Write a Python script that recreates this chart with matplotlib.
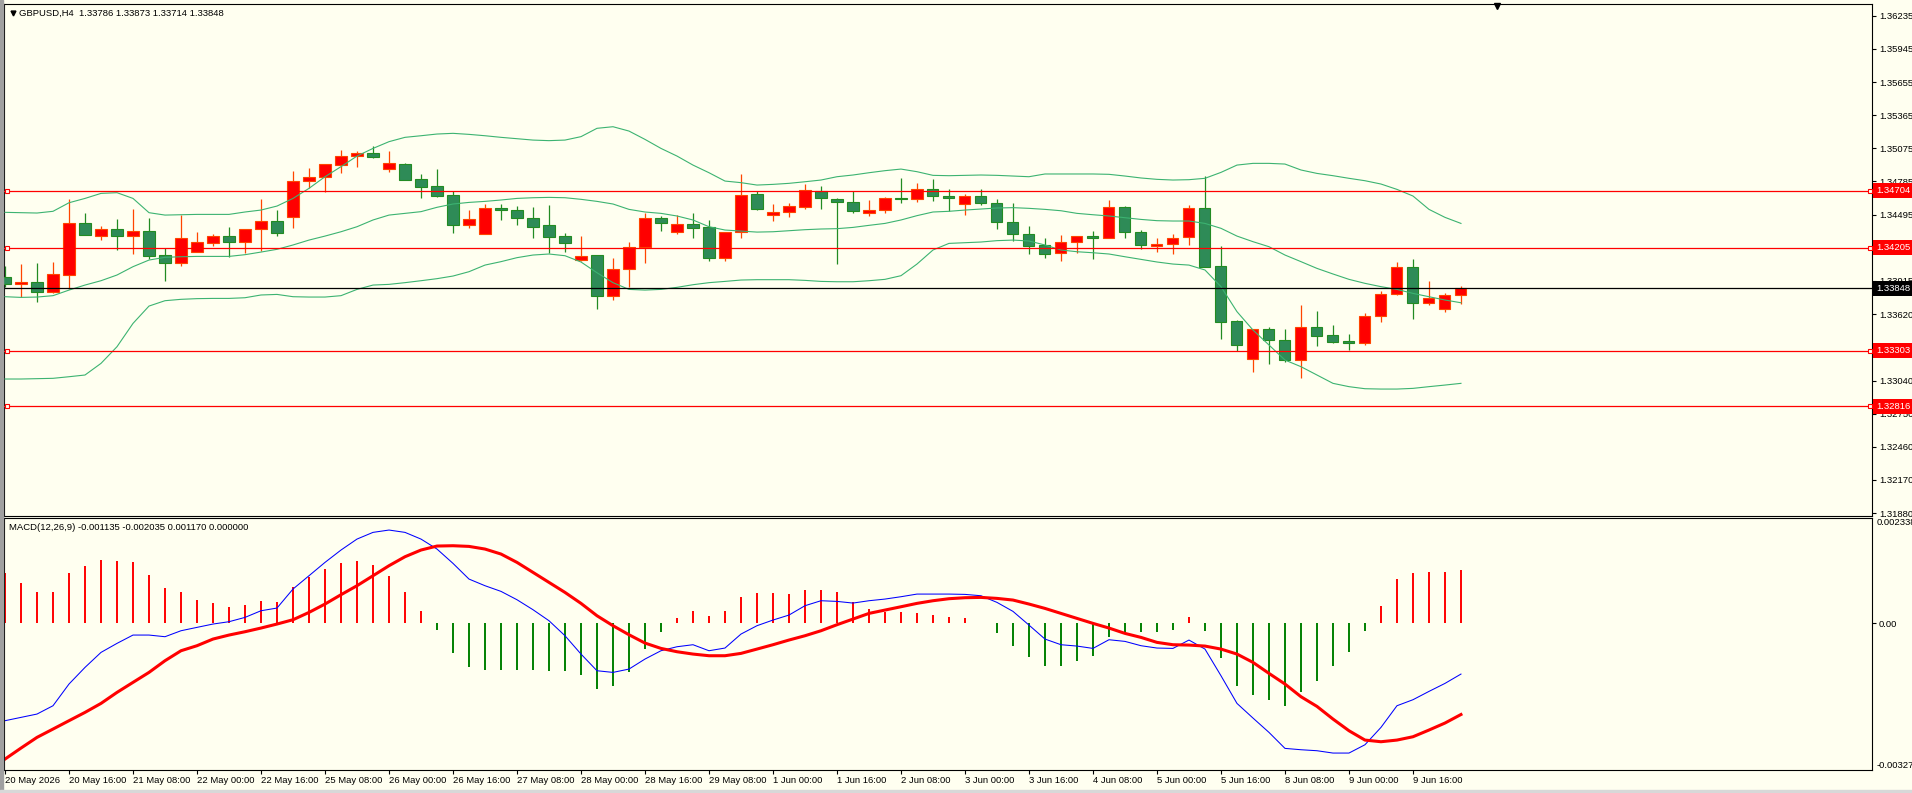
import numpy as np
import matplotlib.pyplot as plt
from matplotlib.transforms import blended_transform_factory

# GBPUSD H4 chart with Bollinger bands and MACD, MT4 look
W, H = 1912, 793
BG = '#FFFFF0'
plt.rcParams['font.family'] = ['Liberation Sans', 'DejaVu Sans']
FS = 6.8

symbol = 'GBPUSD,H4'

# 4h bars, oldest first (20 May 2026 00:00 .. 10 Jun 04:00)
opens = [1.33947, 1.33889, 1.33901, 1.33819, 1.33968, 1.34417, 1.34309, 1.34365, 1.34309, 1.34347,
         1.34137, 1.34073, 1.34169, 1.34248, 1.34304, 1.34257, 1.34365, 1.34438, 1.34476, 1.34785,
         1.34820, 1.34925, 1.35004, 1.35031, 1.34896, 1.34934, 1.34803, 1.34742, 1.34663, 1.34406,
         1.34321, 1.34549, 1.34531, 1.34461, 1.34400, 1.34304, 1.34099, 1.34137, 1.33778, 1.34014,
         1.34207, 1.34464, 1.34339, 1.34409, 1.34382, 1.34111, 1.34339, 1.34674, 1.34487, 1.34514,
         1.34563, 1.34704, 1.34628, 1.34601, 1.34505, 1.34531, 1.34639, 1.34628, 1.34715, 1.34654,
         1.34584, 1.34654, 1.34593, 1.34426, 1.34321, 1.34225, 1.34155, 1.34251, 1.34304, 1.34292,
         1.34560, 1.34341, 1.34222, 1.34233, 1.34295, 1.34549, 1.34044, 1.33562, 1.33232, 1.33489,
         1.33392, 1.33217, 1.33506, 1.33436, 1.33387, 1.33366, 1.33603, 1.33795, 1.34032, 1.33717,
         1.33667, 1.33786]
highs = [1.34044, 1.34061, 1.34070, 1.34079, 1.34631, 1.34508, 1.34394, 1.34455, 1.34543, 1.34464,
         1.34204, 1.34493, 1.34341, 1.34327, 1.34385, 1.34365, 1.34631, 1.34534, 1.34876, 1.34905,
         1.34934, 1.35060, 1.35048, 1.35095, 1.35048, 1.34943, 1.34850, 1.34890, 1.34698, 1.34534,
         1.34587, 1.34587, 1.34569, 1.34560, 1.34578, 1.34333, 1.34306, 1.34137, 1.34114, 1.34254,
         1.34505, 1.34482, 1.34490, 1.34508, 1.34447, 1.34339, 1.34850, 1.34704, 1.34587, 1.34596,
         1.34762, 1.34744, 1.34639, 1.34704, 1.34622, 1.34651, 1.34815, 1.34771, 1.34806, 1.34715,
         1.34674, 1.34715, 1.34628, 1.34596, 1.34394, 1.34286, 1.34315, 1.34304, 1.34350, 1.34622,
         1.34569, 1.34359, 1.34289, 1.34321, 1.34578, 1.34832, 1.34216, 1.33571, 1.33489, 1.33512,
         1.33492, 1.33705, 1.33649, 1.33527, 1.33448, 1.33635, 1.33825, 1.34079, 1.34105, 1.33912,
         1.33807, 1.33873]
lows = [1.33863, 1.33775, 1.33731, 1.33804, 1.33839, 1.34318, 1.34271, 1.34184, 1.34149, 1.34102,
        1.33915, 1.34044, 1.34169, 1.34219, 1.34125, 1.34160, 1.34178, 1.34306, 1.34377, 1.34730,
        1.34695, 1.34861, 1.34914, 1.34993, 1.34870, 1.34800, 1.34642, 1.34651, 1.34336, 1.34379,
        1.34321, 1.34450, 1.34406, 1.34292, 1.34155, 1.34166, 1.34090, 1.33670, 1.33749, 1.33863,
        1.34073, 1.34353, 1.34327, 1.34292, 1.34085, 1.34090, 1.34292, 1.34537, 1.34441, 1.34476,
        1.34546, 1.34546, 1.34064, 1.34511, 1.34485, 1.34505, 1.34598, 1.34601, 1.34610, 1.34525,
        1.34493, 1.34575, 1.34365, 1.34266, 1.34152, 1.34117, 1.34090, 1.34160, 1.34108, 1.34292,
        1.34292, 1.34195, 1.34169, 1.34152, 1.34231, 1.34038, 1.33407, 1.33302, 1.33118, 1.33182,
        1.33200, 1.33060, 1.33346, 1.33366, 1.33305, 1.33349, 1.33556, 1.33787, 1.33582, 1.33705,
        1.33641, 1.33714]
closes = [1.33889, 1.33901, 1.33819, 1.33971, 1.34417, 1.34318, 1.34365, 1.34306, 1.34347, 1.34134,
          1.34073, 1.34286, 1.34251, 1.34304, 1.34257, 1.34365, 1.34438, 1.34336, 1.34785, 1.34823,
          1.34934, 1.35004, 1.35031, 1.35001, 1.34943, 1.34800, 1.34739, 1.34660, 1.34406, 1.34452,
          1.34549, 1.34537, 1.34461, 1.34388, 1.34301, 1.34248, 1.34131, 1.33778, 1.34014, 1.34207,
          1.34461, 1.34423, 1.34409, 1.34379, 1.34111, 1.34339, 1.34663, 1.34546, 1.34514, 1.34566,
          1.34706, 1.34636, 1.34601, 1.34523, 1.34531, 1.34636, 1.34628, 1.34715, 1.34654, 1.34636,
          1.34654, 1.34593, 1.34426, 1.34321, 1.34222, 1.34152, 1.34251, 1.34304, 1.34292, 1.34560,
          1.34344, 1.34231, 1.34233, 1.34286, 1.34549, 1.34038, 1.33556, 1.33349, 1.33489, 1.33392,
          1.33217, 1.33506, 1.33433, 1.33381, 1.33366, 1.33603, 1.33795, 1.34032, 1.33717, 1.33760,
          1.33787, 1.33848]

# Bollinger bands
bb_upper = [1.34514, 1.34511, 1.34508, 1.34523, 1.34598, 1.34636, 1.34680, 1.34686, 1.34636, 1.34511,
            1.34490, 1.34493, 1.34496, 1.34496, 1.34496, 1.34517, 1.34534, 1.34569, 1.34636, 1.34724,
            1.34826, 1.34914, 1.35007, 1.35074, 1.35133, 1.35171, 1.35185, 1.35200, 1.35206, 1.35197,
            1.35185, 1.35171, 1.35159, 1.35147, 1.35142, 1.35147, 1.35177, 1.35250, 1.35264, 1.35226,
            1.35153, 1.35074, 1.35007, 1.34928, 1.34861, 1.34788, 1.34774, 1.34753, 1.34759, 1.34768,
            1.34782, 1.34797, 1.34826, 1.34841, 1.34861, 1.34879, 1.34893, 1.34870, 1.34838, 1.34835,
            1.34838, 1.34841, 1.34838, 1.34832, 1.34826, 1.34850, 1.34850, 1.34850, 1.34850, 1.34847,
            1.34832, 1.34815, 1.34803, 1.34797, 1.34800, 1.34812, 1.34864, 1.34928, 1.34943, 1.34943,
            1.34937, 1.34885, 1.34855, 1.34835, 1.34812, 1.34791, 1.34762, 1.34715, 1.34657, 1.34540,
            1.34470, 1.34417]
bb_mid = [1.33775, 1.33769, 1.33772, 1.33784, 1.33833, 1.33877, 1.33915, 1.33965, 1.34038, 1.34096,
          1.34120, 1.34125, 1.34128, 1.34128, 1.34128, 1.34143, 1.34166, 1.34190, 1.34228, 1.34271,
          1.34306, 1.34344, 1.34388, 1.34447, 1.34490, 1.34505, 1.34520, 1.34558, 1.34587, 1.34601,
          1.34610, 1.34622, 1.34636, 1.34642, 1.34645, 1.34642, 1.34628, 1.34610, 1.34587, 1.34540,
          1.34517, 1.34505, 1.34482, 1.34447, 1.34388, 1.34359, 1.34350, 1.34341, 1.34344, 1.34353,
          1.34362, 1.34368, 1.34371, 1.34382, 1.34400, 1.34417, 1.34447, 1.34485, 1.34517, 1.34523,
          1.34534, 1.34543, 1.34552, 1.34555, 1.34549, 1.34540, 1.34528, 1.34505, 1.34493, 1.34482,
          1.34467, 1.34452, 1.34441, 1.34438, 1.34438, 1.34417, 1.34374, 1.34306, 1.34257, 1.34213,
          1.34140, 1.34082, 1.34023, 1.33974, 1.33927, 1.33892, 1.33863, 1.33839, 1.33804, 1.33775,
          1.33746, 1.33722]
bb_lower = [1.33054, 1.33054, 1.33057, 1.33060, 1.33074, 1.33089, 1.33191, 1.33337, 1.33541, 1.33693,
            1.33740, 1.33752, 1.33758, 1.33760, 1.33760, 1.33766, 1.33790, 1.33795, 1.33775, 1.33772,
            1.33772, 1.33784, 1.33839, 1.33877, 1.33883, 1.33898, 1.33915, 1.33933, 1.33956, 1.33994,
            1.34052, 1.34082, 1.34117, 1.34140, 1.34149, 1.34134, 1.34079, 1.33985, 1.33898, 1.33839,
            1.33833, 1.33839, 1.33857, 1.33880, 1.33898, 1.33909, 1.33921, 1.33924, 1.33924, 1.33924,
            1.33918, 1.33909, 1.33906, 1.33906, 1.33915, 1.33927, 1.33959, 1.34061, 1.34184, 1.34242,
            1.34248, 1.34254, 1.34266, 1.34271, 1.34263, 1.34228, 1.34184, 1.34169, 1.34160, 1.34149,
            1.34125, 1.34102, 1.34079, 1.34061, 1.34052, 1.34009, 1.33863, 1.33644, 1.33483, 1.33352,
            1.33220, 1.33162, 1.33089, 1.33016, 1.32987, 1.32969, 1.32966, 1.32966, 1.32972, 1.32987,
            1.33001, 1.33016]

# MACD(12,26,9) window
macd_hist = [0.001113, 0.000898, 0.000682, 0.000682, 0.001105, 0.001276, 0.001409, 0.001387, 0.001365, 0.001076,
             0.000771, 0.000682, 0.000512, 0.000452, 0.000363, 0.000408, 0.000497, 0.000460, 0.000809, 0.001016,
             0.001202, 0.001343, 0.001387, 0.001283, 0.001053, 0.000682, 0.000260, -0.000156, -0.000668, -0.000987,
             -0.001046, -0.001046, -0.001046, -0.001046, -0.001061, -0.001076, -0.001150, -0.001469, -0.001409, -0.001098,
             -0.000579, -0.000208, 0.000104, 0.000274, 0.000163, 0.000274, 0.000586, 0.000660, 0.000660, 0.000645,
             0.000742, 0.000742, 0.000682, 0.000460, 0.000312, 0.000237, 0.000237, 0.000223, 0.000178, 0.000126,
             0.000104, 0.000007, -0.000230, -0.000504, -0.000749, -0.000950, -0.000950, -0.000838, -0.000727, -0.000319,
             -0.000208, -0.000208, -0.000208, -0.000148, 0.000141, -0.000171, -0.000786, -0.001395, -0.001595, -0.001706,
             -0.001855, -0.001543, -0.001283, -0.000964, -0.000653, -0.000171, 0.000386, 0.000987, 0.001105, 0.001142,
             0.001142, 0.001170]
macd_main = [-0.002173, -0.002099, -0.002025, -0.001840, -0.001357, -0.000987, -0.000653, -0.000452, -0.000267, -0.000267,
             -0.000304, -0.000171, -0.000096, -0.000022, 0.000030, 0.000126, 0.000274, 0.000334, 0.000757, 0.001053,
             0.001350, 0.001625, 0.001869, 0.002018, 0.002070, 0.002018, 0.001869, 0.001647, 0.001328, 0.000979,
             0.000831, 0.000705, 0.000519, 0.000297, 0.000052, -0.000282, -0.000690, -0.001061, -0.001098, -0.001024,
             -0.000801, -0.000616, -0.000527, -0.000482, -0.000616, -0.000556, -0.000245, -0.000059, 0.000067, 0.000178,
             0.000386, 0.000497, 0.000482, 0.000445, 0.000497, 0.000534, 0.000586, 0.000645, 0.000645, 0.000645,
             0.000638, 0.000608, 0.000460, 0.000260, -0.000045, -0.000356, -0.000482, -0.000512, -0.000564, -0.000371,
             -0.000408, -0.000504, -0.000556, -0.000564, -0.000378, -0.000579, -0.001172, -0.001788, -0.002114, -0.002433,
             -0.002789, -0.002819, -0.002841, -0.002893, -0.002893, -0.002708, -0.002322, -0.001840, -0.001706, -0.001521,
             -0.001343, -0.001135]
macd_signal = [-0.003027, -0.002782, -0.002544, -0.002359, -0.002173, -0.001988, -0.001788, -0.001543, -0.001320, -0.001098,
               -0.000838, -0.000616, -0.000504, -0.000356, -0.000267, -0.000193, -0.000111, -0.000022, 0.000074, 0.000237,
               0.000423, 0.000631, 0.000831, 0.001053, 0.001276, 0.001476, 0.001625, 0.001714, 0.001721, 0.001706,
               0.001647, 0.001536, 0.001350, 0.001128, 0.000905, 0.000682, 0.000438, 0.000163, -0.000059, -0.000260,
               -0.000445, -0.000564, -0.000638, -0.000690, -0.000727, -0.000727, -0.000675, -0.000579, -0.000482, -0.000378,
               -0.000282, -0.000171, -0.000037, 0.000089, 0.000215, 0.000289, 0.000363, 0.000438, 0.000497, 0.000542,
               0.000564, 0.000571, 0.000549, 0.000512, 0.000423, 0.000326, 0.000215, 0.000104, -0.000007, -0.000111,
               -0.000230, -0.000319, -0.000430, -0.000482, -0.000490, -0.000512, -0.000579, -0.000690, -0.000875, -0.001120,
               -0.001357, -0.001639, -0.001855, -0.002136, -0.002396, -0.002604, -0.002641, -0.002604, -0.002530, -0.002381,
               -0.002225, -0.002035]

levels = [1.34704, 1.34205, 1.33303, 1.32816]   # red horizontal lines
bid = 1.33848

price_ticks = [1.36235, 1.35945, 1.35655, 1.35365, 1.35075, 1.34785, 1.34495,
               1.33915, 1.33620, 1.33040, 1.32750, 1.32460, 1.32170, 1.31880]
macd_top, macd_bottom = 0.002338, -0.00327

time_labels = ['20 May 2026', '20 May 16:00', '21 May 08:00', '22 May 00:00', '22 May 16:00',
               '25 May 08:00', '26 May 00:00', '26 May 16:00', '27 May 08:00', '28 May 00:00',
               '28 May 16:00', '29 May 08:00', '1 Jun 00:00', '1 Jun 16:00', '2 Jun 08:00',
               '3 Jun 00:00', '3 Jun 16:00', '4 Jun 08:00', '5 Jun 00:00', '5 Jun 16:00',
               '8 Jun 08:00', '9 Jun 00:00', '9 Jun 16:00']
bars_per_label = 4

#_____________________________________________________________________________________

fig = plt.figure(figsize=(W / 100, H / 100), dpi=100, facecolor=BG)


def axes_px(l, t, r, b):
    return fig.add_axes([l / W, 1 - b / H, (r - l) / W, (b - t) / H])


ax = axes_px(4, 4, 1872, 516)
ax2 = axes_px(4, 518, 1872, 770)
for a in (ax, ax2):
    a.set_facecolor(BG)
    for s in a.spines.values():
        s.set_linewidth(0.8)
    # 16 px per bar, first bar half cut at left edge
    a.set_xlim(-0.0625, 116.69)

x = np.arange(len(opens))
o, h, l, c = (np.array(v) for v in (opens, highs, lows, closes))
up = c >= o

# candles: red = bull, green = bear
for mask, fill, edge in ((up, '#FF0000', '#FF4500'), (~up, '#2E8B57', '#228B22')):
    ax.vlines(x[mask], l[mask], h[mask], color=edge, lw=0.9, zorder=2)
    ax.bar(x[mask], np.abs(c - o)[mask], bottom=np.minimum(o, c)[mask], width=0.69,
           color=fill, edgecolor=edge, lw=0.8, zorder=3)

for band in (bb_upper, bb_mid, bb_lower):
    ax.plot(x, band, color='#3CB371', lw=0.8, zorder=4)

trans = blended_transform_factory(ax.transAxes, ax.transData)
for lvl in levels:
    ax.axhline(lvl, color='#FF0000', lw=0.9, zorder=5)
    ax.plot([2.5 / 1868, 1865.5 / 1868], [lvl, lvl], ls='none', marker='s', ms=3.2,
            mfc=BG, mec='#FF0000', mew=0.8, transform=trans, zorder=6, clip_on=False)
    ax.text(1.0 + 4 / 1868, lvl, '%.5f' % lvl, transform=trans, ha='left', va='center',
            color='white', fontsize=FS, zorder=10, clip_on=False,
            bbox=dict(boxstyle='square,pad=0.3', fc='#FF0000', ec='none'))
ax.axhline(bid, color='black', lw=0.9, zorder=5)
ax.text(1.0 + 4 / 1868, bid, '%.5f' % bid, transform=trans, ha='left', va='center',
        color='white', fontsize=FS, zorder=10, clip_on=False,
        bbox=dict(boxstyle='square,pad=0.3', fc='black', ec='none'))

ax.set_ylim(1.31854, 1.36339)
ax.yaxis.tick_right()
ax.set_yticks(price_ticks)
ax.set_yticklabels(['%.5f' % p for p in price_ticks])
ax.tick_params(axis='y', direction='out', length=3, width=0.8, pad=2, labelsize=FS)
ax.set_xticks([])

# header + shift marker
ax.plot([9 / 1868], [1 - 8.5 / 512], marker='v', ms=3.5, color='black',
        transform=ax.transAxes, clip_on=False)
ax.plot([1493 / 1868], [1 - 1.5 / 512], marker='v', ms=5, color='black',
        transform=ax.transAxes, clip_on=False)
fig.text(19 / W, 1 - 13 / H, '%s  %.5f %.5f %.5f %.5f' % (symbol, o[-1], h[-1], l[-1], c[-1]),
         va='center', ha='left', fontsize=FS)

# MACD
hist = np.array(macd_hist)
pos = hist >= 0
ax2.vlines(x[pos], 0, hist[pos], color='#FF0000', lw=1.4)
ax2.vlines(x[~pos], 0, hist[~pos], color='#008000', lw=1.4)
ax2.plot(x, macd_main, color='#0000FF', lw=0.75)
ax2.plot(x, macd_signal, color='#FF0000', lw=2.2)
ax2.set_ylim(macd_bottom, macd_top)
ax2.yaxis.tick_right()
ax2.set_yticks([0.0])
ax2.set_yticklabels(['0.00'])
ax2.tick_params(axis='y', direction='out', length=3, width=0.8, pad=2, labelsize=FS)
ax2.text(1.0 + 5 / 1868, macd_top, '%.6f' % macd_top, transform=ax2.get_yaxis_transform(),
         ha='left', va='top', fontsize=FS, clip_on=False)
ax2.text(1.0 + 5 / 1868, macd_bottom, '%.5f' % macd_bottom, transform=ax2.get_yaxis_transform(),
         ha='left', va='bottom', fontsize=FS, clip_on=False)
fig.text(9 / W, 1 - 527 / H, 'MACD(12,26,9) %.6f %.6f %.6f %.6f' %
         (macd_main[-1], macd_signal[-1], macd_hist[-1], 0.0),
         va='center', ha='left', fontsize=FS)

ax2.set_xticks(np.arange(len(time_labels)) * bars_per_label)
ax2.set_xticklabels(time_labels)
for t in ax2.get_xticklabels():
    t.set_ha('left')
ax2.tick_params(axis='x', direction='out', length=3, width=0.8, pad=1.5, labelsize=FS)

# window frame
fig.add_artist(plt.Rectangle((0, 0), 3 / W, 1, transform=fig.transFigure, color='#A0A0A0'))
fig.add_artist(plt.Rectangle((0, 0), 1, 3 / H, transform=fig.transFigure, color='#D8D8D8'))

fig.savefig('out.png', dpi=100, facecolor=BG)
